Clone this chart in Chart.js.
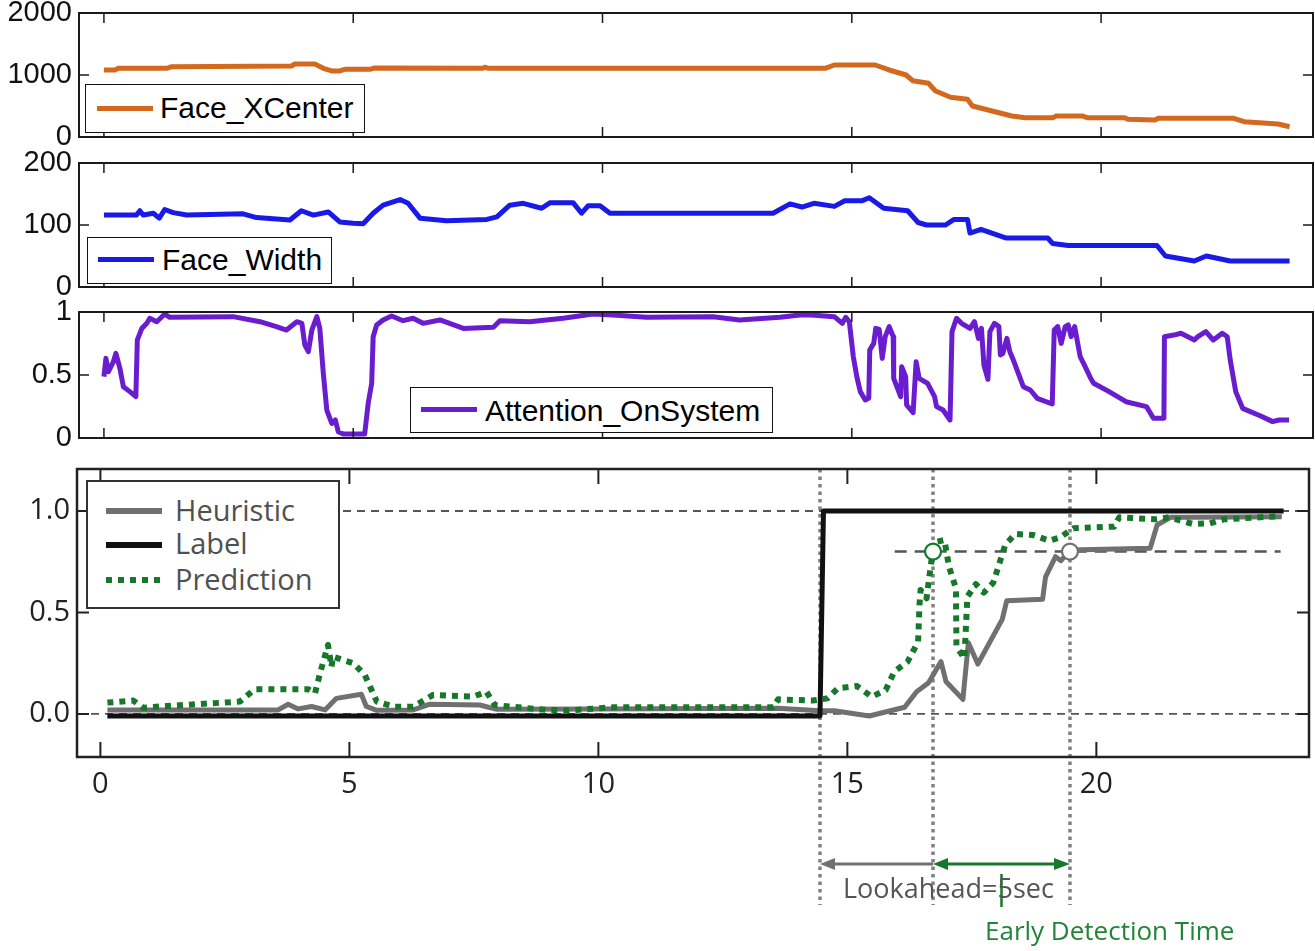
<!DOCTYPE html>
<html>
<head>
<meta charset="utf-8">
<title>Attention timeline</title>
<script src="https://cdn.jsdelivr.net/npm/chart.js@4.4.1/dist/chart.umd.min.js"></script>
<style>
    html, body { margin: 0; padding: 0; background: #fff; }
    body { position: relative; width: 1315px; height: 951px; overflow: hidden; }
    canvas { position: absolute; left: 0; }
    .box { position: absolute; background: #fff; box-sizing: border-box; }
    .swatch { position: absolute; }
    .txt { position: absolute; line-height: 1; white-space: nowrap; }
    .arial { font-family: "Liberation Sans", Arial, sans-serif; font-size: 30px; color: #000; }
    .segoe { font-family: "Open Sans", "Noto Sans", sans-serif; }
</style>
</head>
<body>
<canvas id="xcenterChart"></canvas>
<canvas id="widthChart"></canvas>
<canvas id="attentionChart"></canvas>
<canvas id="detectChart"></canvas>

<!-- legends -->
<div class="box" style="left:85px;top:84px;width:280px;height:49px;border:1.5px solid #111"></div>
<div class="swatch" style="left:97px;top:106px;width:56px;height:5px;background:#d2691e"></div>
<div class="txt arial" style="left:160px;top:93px">Face_XCenter</div>

<div class="box" style="left:87px;top:237px;width:245px;height:47px;border:1.5px solid #111"></div>
<div class="swatch" style="left:98px;top:257px;width:56px;height:5px;background:#1a1ae8"></div>
<div class="txt arial" style="left:162px;top:245px">Face_Width</div>

<div class="box" style="left:410px;top:387px;width:363px;height:46px;border:1.5px solid #111"></div>
<div class="swatch" style="left:421px;top:407px;width:56px;height:5px;background:#6a1ccf"></div>
<div class="txt arial" style="left:485px;top:396px">Attention_OnSystem</div>

<div class="box" style="left:86px;top:480px;width:254px;height:129px;border:2px solid #333"></div>
<div class="swatch" style="left:106px;top:508px;width:56px;height:6px;background:#707070"></div>
<div class="swatch" style="left:106px;top:542px;width:56px;height:6px;background:#111"></div>
<div class="swatch" style="left:106px;top:577px;width:54px;height:6px;background:repeating-linear-gradient(to right,#17782b 0 6px,transparent 6px 12px)"></div>
<div class="txt segoe" style="left:175px;top:495px;font-size:29px;color:#505050">Heuristic</div>
<div class="txt segoe" style="left:175px;top:528px;font-size:29px;color:#505050">Label</div>
<div class="txt segoe" style="left:175px;top:564px;font-size:29px;color:#505050">Prediction</div>

<!-- annotations -->
<div class="txt segoe" style="left:843px;top:874px;font-size:27px;color:#555">Lookahead=5sec</div>
<div class="txt segoe" style="left:985px;top:917px;font-size:26px;color:#218535">Early Detection Time</div>

<script>
// ---- Time axis ----
const timeTicks = [0, 5, 10, 15, 20];

// ---- Face_XCenter ----
const xcenterT = [0, 0.22, 0.29, 1.26, 1.36, 3.76, 3.83, 4.23, 4.4, 4.57, 4.73, 4.83, 5.33, 5.43, 7.6, 7.64, 7.7, 13.0,
    14.48, 14.65, 15.47, 15.75, 16.09, 16.22, 16.54, 16.67, 16.98, 17.32, 17.42, 18.21, 18.48, 19.03, 19.1, 19.62, 19.72,
    20.47, 20.54, 21.08, 21.15, 22.66, 22.87, 23.55, 23.78];
const xcenterV = [1081, 1081, 1108, 1108, 1134, 1145, 1177, 1177, 1108, 1065, 1065, 1092, 1092, 1113, 1110, 1125, 1110, 1110,
    1110, 1161, 1161, 1081, 1000, 908, 866, 747, 640, 608, 500, 339, 312, 312, 339, 339, 312,
    312, 285, 274, 301, 301, 247, 210, 166];
const xcenterTicks = [0, 1000, 2000];

// ---- Face_Width ----
const widthT = [0, 0.65, 0.72, 0.79, 0.99, 1.11, 1.22, 1.39, 1.66, 2.79, 3.06, 3.73, 3.96, 4.2, 4.5, 4.73, 5.0, 5.2, 5.4,
    5.6, 5.94, 6.1, 6.34, 6.87, 7.68, 7.88, 8.14, 8.41, 8.78, 8.95, 9.41, 9.58, 9.71, 9.95, 10.15, 13.42, 13.76, 14.0,
    14.24, 14.65, 14.86, 15.2, 15.35, 15.64, 16.12, 16.33, 16.5, 16.88, 17.05, 17.32, 17.37, 17.59, 18.1, 18.93, 19.03,
    19.34, 21.12, 21.29, 21.87, 22.11, 22.59, 23.78];
const widthV = [116, 116, 123, 116, 119, 111, 125, 120, 116, 118, 112, 108, 123, 116, 121, 105, 103, 102, 119,
    132, 141, 135, 111, 107, 109, 113, 132, 135, 127, 136, 136, 119, 131, 131, 119, 119, 134, 129,
    135, 130, 139, 139, 144, 127, 123, 104, 100, 100, 109, 109, 87, 93, 79, 79, 70,
    67, 67, 50, 42, 50, 42, 42];
const widthTicks = [0, 100, 200];

// ---- Attention_OnSystem ----
const attentionT = [0.0, 0.04, 0.09, 0.19, 0.24, 0.32, 0.39, 0.52, 0.64, 0.67, 0.76, 0.86, 0.92, 1.06, 1.22, 1.32, 2.59,
    3.13, 3.46, 3.66, 3.87, 3.97, 4.03, 4.1, 4.17, 4.27, 4.33, 4.4, 4.47, 4.57, 4.64, 4.7, 4.8, 5.23, 5.3, 5.37, 5.4,
    5.47, 5.6, 5.77, 6.0, 6.2, 6.4, 6.74, 7.21, 7.81, 7.94, 8.54, 9.21, 9.81, 10.21, 10.88, 12.22, 12.75, 13.56, 13.96,
    14.19, 14.65, 14.81, 14.88, 14.95, 15.03, 15.1, 15.17, 15.27, 15.34, 15.36, 15.44, 15.48, 15.55, 15.61, 15.67,
    15.75, 15.83, 15.84, 15.98, 16.0, 16.08, 16.1, 16.23, 16.29, 16.35, 16.52, 16.66, 16.7, 16.83, 16.97, 17.01, 17.1,
    17.2, 17.37, 17.46, 17.54, 17.6, 17.65, 17.73, 17.77, 17.86, 17.95, 17.98, 18.03, 18.11, 18.17, 18.24, 18.44,
    18.58, 18.72, 19.02, 19.06, 19.13, 19.2, 19.28, 19.34, 19.4, 19.47, 19.58, 19.68, 19.79, 19.85, 20.16, 20.5,
    20.91, 21.05, 21.26, 21.27, 21.46, 21.6, 21.87, 21.94, 22.1, 22.25, 22.43, 22.53, 22.59, 22.7, 22.84, 23.2,
    23.44, 23.57, 23.77];
const attentionV = [0.487, 0.632, 0.526, 0.606, 0.672, 0.553, 0.407, 0.368, 0.328, 0.778, 0.87, 0.91, 0.95, 0.923, 0.984, 0.958, 0.963,
    0.923, 0.884, 0.857, 0.923, 0.91, 0.738, 0.685, 0.857, 0.963, 0.87, 0.513, 0.222, 0.116, 0.143, 0.05, 0.032, 0.032, 0.275, 0.434, 0.804,
    0.897, 0.937, 0.968, 0.931, 0.95, 0.91, 0.937, 0.87, 0.878, 0.931, 0.923, 0.95, 0.984, 0.976, 0.958, 0.963, 0.937, 0.958, 0.976,
    0.976, 0.963, 0.91, 0.958, 0.923, 0.646, 0.487, 0.368, 0.302, 0.315, 0.698, 0.751, 0.87, 0.862, 0.632, 0.804,
    0.884, 0.804, 0.474, 0.328, 0.566, 0.487, 0.262, 0.201, 0.606, 0.474, 0.434, 0.328, 0.249, 0.222, 0.143, 0.844, 0.95,
    0.91, 0.87, 0.923, 0.791, 0.87, 0.579, 0.466, 0.844, 0.91, 0.884, 0.659, 0.672, 0.791, 0.685, 0.619, 0.407,
    0.381, 0.315, 0.27, 0.857, 0.884, 0.751, 0.884, 0.897, 0.804, 0.884, 0.646, 0.566, 0.474, 0.434, 0.368, 0.288,
    0.249, 0.156, 0.156, 0.804, 0.817, 0.831, 0.778, 0.804, 0.844, 0.778, 0.831, 0.804, 0.619, 0.368, 0.235, 0.175,
    0.13, 0.143, 0.143];
const attentionTicks = [0, 0.5, 1];

// ---- Detection panel ----
const heuristicT = [0.14, 3.57, 3.77, 3.97, 4.24, 4.51, 4.74, 5.24, 5.34, 5.55, 6.28, 6.62, 7.62, 7.96, 10.0, 13.6, 14.45,
    14.74, 15.44, 16.15, 16.39, 16.63, 16.88, 16.98, 17.32, 17.43, 17.62, 18.11, 18.2, 18.92, 18.98, 19.18, 19.29,
    19.47, 21.08, 21.22, 21.49, 21.87, 23.72];
const heuristicV = [0.02, 0.02, 0.048, 0.025, 0.037, 0.02, 0.077, 0.097, 0.037, 0.018, 0.02, 0.048, 0.044, 0.023, 0.025, 0.028, 0.016,
    0.016, -0.01, 0.033, 0.11, 0.154, 0.258, 0.16, 0.072, 0.351, 0.246, 0.466, 0.558, 0.565, 0.676, 0.775, 0.755,
    0.808, 0.816, 0.931, 0.969, 0.969, 0.972];

const labelT = [0.14, 14.45, 14.52, 23.76];
const labelV = [-0.01, -0.01, 1.0, 1.0];

const predictionT = [0.14, 0.66, 0.86, 1.33, 2.8, 3.1, 4.17, 4.31, 4.41, 4.57, 4.64, 4.67, 5.08, 5.31, 5.55, 5.88, 6.28,
    6.68, 7.49, 7.75, 7.92, 8.96, 9.36, 10.3, 13.51, 13.61, 14.3, 14.6, 14.81, 15.19, 15.49, 15.77, 15.94, 16.21,
    16.42, 16.45, 16.47, 16.59, 16.69, 16.8, 16.95, 17.04, 17.18, 17.19, 17.35, 17.41, 17.58, 17.74, 17.93, 18.17,
    18.37, 18.72, 19.06, 19.27, 19.54, 20.36, 20.46, 21.18, 21.46, 21.94, 22.28, 22.56, 23.72];
const predictionV = [0.056, 0.066, 0.031, 0.039, 0.061, 0.122, 0.122, 0.102, 0.2, 0.34, 0.233, 0.282, 0.25, 0.192, 0.061, 0.036, 0.036,
    0.094, 0.085, 0.11, 0.044, 0.02, 0.017, 0.033, 0.033, 0.072, 0.066, 0.077, 0.127, 0.138, 0.085, 0.118, 0.208, 0.258,
    0.356, 0.545, 0.611, 0.57, 0.759, 0.849, 0.857, 0.726, 0.619, 0.332, 0.274, 0.578, 0.64, 0.598, 0.647, 0.833,
    0.887, 0.882, 0.854, 0.87, 0.915, 0.923, 0.969, 0.959, 0.969, 0.936, 0.939, 0.959, 0.975];

const detectTicks = [0, 0.5, 1];
const refLevels = [0, 1];
const thresholdLevel = 0.8;
const thresholdSpan = [15.95, 23.7];
const markerT = [16.72, 19.47];
const markerV = [0.8, 0.8];
const eventTimes = [14.45, 16.72, 19.47];   // label onset, prediction crossing, heuristic crossing

// ---- Colors ----
const ORANGE = '#d2691e';
const BLUE = '#1a1ae8';
const PURPLE = '#6a1ccf';
const GRAY = '#707070';
const BLACK = '#111111';
const GREEN = '#17782b';

const W = 1315;

function zip(t, v) {
    return t.map((x, i) => ({ x: x, y: v[i] }));
}

// ---- Frame + inward ticks ----
const framePlugin = {
    id: 'frame',
    afterDatasetsDraw(chart, args, o) {
        if (!o || !o.color) return;
        const { ctx, chartArea: a } = chart;
        const xs = chart.scales.x, ys = chart.scales.y;
        ctx.save();
        ctx.strokeStyle = o.color;
        ctx.lineWidth = o.tickWidth;
        ctx.beginPath();
        timeTicks.forEach(v => {
            const p = xs.getPixelForValue(v);
            ctx.moveTo(p, a.top); ctx.lineTo(p, a.top + o.xTickLen);
            ctx.moveTo(p, a.bottom); ctx.lineTo(p, a.bottom - o.xTickLen);
        });
        o.yTicks.forEach(v => {
            const p = ys.getPixelForValue(v);
            ctx.moveTo(a.left, p); ctx.lineTo(a.left + o.yTickLen, p);
            ctx.moveTo(a.right, p); ctx.lineTo(a.right - o.yTickLen, p);
        });
        ctx.stroke();
        ctx.lineWidth = o.width;
        ctx.strokeRect(a.left, a.top, a.right - a.left, a.bottom - a.top);
        ctx.restore();
    }
};

// ---- Event lines + arrows ----
function arrowHead(ctx, tip, y, dir, len, half) {
    ctx.beginPath();
    ctx.moveTo(tip, y);
    ctx.lineTo(tip - dir * len, y - half);
    ctx.lineTo(tip - dir * len, y + half);
    ctx.closePath();
    ctx.fill();
}

const eventPlugin = {
    id: 'events',
    beforeDatasetsDraw(chart, args, o) {
        if (!o || !o.lineBottom) return;
        const { ctx, chartArea: a } = chart;
        const xs = chart.scales.x;
        ctx.save();
        ctx.strokeStyle = '#808080';
        ctx.lineWidth = 3.5;
        ctx.setLineDash([3.5, 4]);
        eventTimes.forEach(v => {
            const p = xs.getPixelForValue(v);
            ctx.beginPath();
            ctx.moveTo(p, a.top);
            ctx.lineTo(p, o.lineBottom);
            ctx.stroke();
        });
        ctx.restore();
    },
    afterDraw(chart, args, o) {
        if (!o || !o.arrowY) return;
        const ctx = chart.ctx;
        const xs = chart.scales.x;
        const x0 = xs.getPixelForValue(eventTimes[0]);
        const x1 = xs.getPixelForValue(eventTimes[1]);
        const x2 = xs.getPixelForValue(eventTimes[2]);
        const y = o.arrowY;
        ctx.save();
        ctx.lineWidth = 3;
        // lookahead arrow
        ctx.strokeStyle = GRAY; ctx.fillStyle = GRAY;
        ctx.beginPath(); ctx.moveTo(x1, y); ctx.lineTo(x0 + 12, y); ctx.stroke();
        arrowHead(ctx, x0, y, -1, 15, 6);
        // early detection arrow
        ctx.strokeStyle = GREEN; ctx.fillStyle = GREEN;
        ctx.beginPath(); ctx.moveTo(x1 + 12, y); ctx.lineTo(x2 - 12, y); ctx.stroke();
        arrowHead(ctx, x1, y, -1, 15, 6);
        arrowHead(ctx, x2, y, 1, 16, 6);
        // pointer to label
        const xm = xs.getPixelForValue((eventTimes[1] + eventTimes[2]) / 2);
        ctx.lineWidth = 2.5;
        ctx.beginPath(); ctx.moveTo(xm, y + 10); ctx.lineTo(xm, y + 43); ctx.stroke();
        ctx.restore();
    }
};

Chart.register(framePlugin, eventPlugin);

// ---- Panel builder ----
function makePanel(id, cfg) {
    const cv = document.getElementById(id);
    cv.width = W;
    cv.height = cfg.height;
    cv.style.top = cfg.top + 'px';
    cv.style.width = W + 'px';
    cv.style.height = cfg.height + 'px';

    return new Chart(cv, {
        type: 'line',
        data: { datasets: cfg.datasets },
        options: {
            responsive: false,
            animation: false,
            events: [],
            layout: {
                autoPadding: false,
                padding: { top: cfg.padTop, bottom: cfg.padBottom, left: 0, right: W - cfg.right }
            },
            elements: { point: { radius: 0 }, line: { tension: 0, borderJoinStyle: 'round' } },
            plugins: {
                legend: { display: false },
                tooltip: { enabled: false },
                frame: cfg.frame,
                events: cfg.events || {}
            },
            scales: {
                x: {
                    type: 'linear',
                    min: cfg.xMin,
                    max: cfg.xMax,
                    grid: { display: false, drawTicks: false },
                    border: { display: false },
                    ticks: cfg.xFont ? { font: cfg.xFont, color: '#222', padding: 10, callback: v => String(v) } : { display: false },
                    afterBuildTicks: s => { s.ticks = timeTicks.map(v => ({ value: v })); },
                    afterFit: s => { s.height = cfg.xHeight; }
                },
                y: {
                    min: cfg.yMin,
                    max: cfg.yMax,
                    grid: { display: false, drawTicks: false },
                    border: { display: false },
                    ticks: { font: cfg.yFont, color: cfg.yColor, padding: 7, callback: cfg.yFormat },
                    afterBuildTicks: s => { s.ticks = cfg.yTicks.map(v => ({ value: v })); },
                    afterFit: s => { s.width = cfg.left; }
                }
            }
        }
    });
}

function topPanel(id, top, bottom, yMax, ticks, t, v, color) {
    return makePanel(id, {
        top: top - 40, height: bottom - top + 80, padTop: 40, padBottom: 40,
        left: 79, right: 1313, xMin: -0.5, xMax: 24.25, xHeight: 0,
        yMin: 0, yMax: yMax, yTicks: ticks,
        yFont: { family: '"Liberation Sans", Arial, sans-serif', size: 29 },
        yColor: '#111', yFormat: val => String(val),
        frame: { color: '#1a1a1a', width: 2, tickWidth: 1.5, xTickLen: 10, yTickLen: 10, yTicks: ticks },
        datasets: [{ data: zip(t, v), borderColor: color, borderWidth: 5 }]
    });
}

// ---- Initialize ----
document.addEventListener('DOMContentLoaded', () => {
    topPanel('xcenterChart', 13, 137, 2000, xcenterTicks, xcenterT, xcenterV, ORANGE);
    topPanel('widthChart', 163, 287, 200, widthTicks, widthT, widthV, BLUE);
    topPanel('attentionChart', 312, 438, 1, attentionTicks, attentionT, attentionV, PURPLE);

    const dTop = 429, dHeight = 522;
    const dxMin = -0.47, dxMax = 24.27;
    makePanel('detectChart', {
        top: dTop, height: dHeight, padTop: 40, padBottom: dHeight - (757 - dTop) - 50,
        left: 77, right: 1309, xMin: dxMin, xMax: dxMax, xHeight: 50,
        xFont: { family: '"Open Sans", "Noto Sans", sans-serif', size: 29 },
        yMin: -0.212, yMax: 1.207, yTicks: detectTicks,
        yFont: { family: '"Open Sans", "Noto Sans", sans-serif', size: 29 },
        yColor: '#222', yFormat: val => val.toFixed(1),
        frame: { color: '#222', width: 2.5, tickWidth: 2, xTickLen: 15, yTickLen: 12, yTicks: detectTicks },
        events: { lineBottom: 905 - dTop, arrowY: 864 - dTop },
        datasets: [
            {
                data: zip(markerT, markerV), showLine: false, order: 0,
                pointRadius: 8, pointBorderWidth: 2.2, pointBackgroundColor: '#fff',
                pointBorderColor: [GREEN, GRAY]
            },
            { data: zip(predictionT, predictionV), borderColor: GREEN, borderWidth: 6, borderDash: [6, 6], order: 1 },
            { data: zip(labelT, labelV), borderColor: BLACK, borderWidth: 5, order: 2 },
            { data: zip(heuristicT, heuristicV), borderColor: GRAY, borderWidth: 5, order: 3 },
            {
                data: zip(thresholdSpan, [thresholdLevel, thresholdLevel]), order: 4,
                borderColor: '#555', borderWidth: 2.5, borderDash: [12, 8]
            },
            ...refLevels.map(lv => ({
                data: zip([dxMin, dxMax], [lv, lv]), order: 5,
                borderColor: '#555', borderWidth: 1.8, borderDash: [8, 6]
            }))
        ]
    });
});
</script>
</body>
</html>
